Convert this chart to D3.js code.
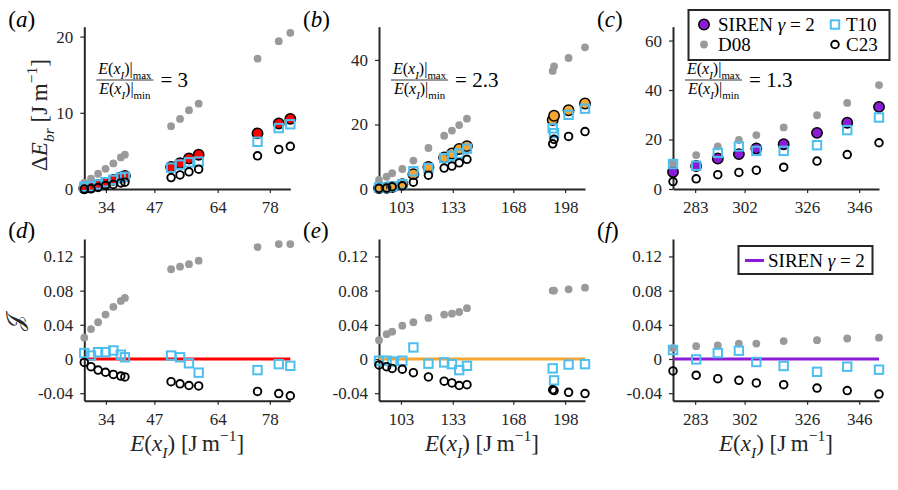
<!DOCTYPE html>
<html>
<head>
<meta charset="utf-8">
<script src="https://cdnjs.cloudflare.com/ajax/libs/d3/7.8.5/d3.min.js"></script>
<style>
    body { margin: 0; background: #fff; }
    svg, svg text { font-family: "Liberation Serif", "Times New Roman", "DejaVu Serif", serif; }
</style>
</head>
<body>
<div id="chart"></div>
<script>
// E(x_I) of each sample [J/m]
var E_a = [28.2, 30.0, 31.9, 33.9, 36.0, 38.0, 39.1, 51.5, 53.9, 56.3, 58.9, 74.7, 80.4, 83.5];
var E_b = [90.3, 94.7, 97.9, 103.8, 110.2, 118.9, 128.0, 132.5, 136.7, 141.2, 190.8, 191.6, 200.0, 209.5];
var E_c = [274.5, 283.4, 291.7, 299.8, 306.5, 317.0, 329.8, 341.4, 353.6];

// Delta E_br [J/m]
var dE_siren_a = [0.1, 0.2, 0.5, 0.8, 1.2, 1.5, 1.7, 2.9, 3.4, 4.0, 4.5, 7.3, 8.6, 9.2];
var dE_d08_a = [0.8, 1.35, 2.0, 2.65, 3.35, 4.15, 4.5, 8.25, 9.2, 10.35, 11.2, 17.1, 19.4, 20.5];
var dE_t10_a = [0.3, 0.35, 0.6, 0.9, 1.2, 1.5, 1.6, 2.8, 3.2, 3.5, 3.6, 6.2, 8.0, 8.5];
var dE_c23_a = [0.0, 0.05, 0.2, 0.45, 0.6, 0.8, 0.9, 1.5, 1.85, 2.25, 2.6, 4.35, 5.2, 5.6];

var dE_siren_b = [0.3, 0.4, 0.6, 1.5, 4.6, 6.8, 9.8, 11.0, 12.4, 13.3, 21.4, 22.7, 24.4, 26.5];
var dE_d08_b = [2.8, 3.8, 4.9, 6.2, 8.8, 12.7, 16.5, 18.1, 19.8, 21.8, 36.6, 38.0, 40.6, 43.9];
var dE_t10_b = [0.5, 0.5, 0.8, 1.5, 5.5, 6.5, 9.6, 10.3, 11.0, 12.5, 18.8, 17.3, 23.0, 24.9];
var dE_c23_b = [0.2, 0.3, 0.7, 1.0, 2.1, 4.3, 6.5, 7.1, 8.1, 9.2, 14.0, 15.4, 16.3, 17.8];

var dE_siren_c = [6.9, 9.3, 12.3, 14.1, 16.4, 18.1, 22.7, 26.8, 33.2];
var dE_d08_c = [10.5, 13.7, 17.2, 19.8, 21.8, 24.9, 29.8, 34.8, 42.0];
var dE_t10_c = [10.1, 9.4, 14.6, 17.2, 15.4, 15.4, 17.7, 23.8, 28.9];
var dE_c23_c = [3.0, 4.1, 5.8, 6.7, 7.6, 8.8, 11.3, 13.9, 18.7];

// J (relative to SIREN)
var J_d08_a = [0.025, 0.035, 0.043, 0.052, 0.061, 0.068, 0.0715, 0.105, 0.108, 0.111, 0.115, 0.131, 0.1345, 0.1345];
var J_t10_a = [0.007, 0.004, 0.008, 0.008, 0.010, 0.005, 0.002, 0.004, 0.002, -0.005, -0.016, -0.013, -0.006, -0.008];
var J_c23_a = [-0.004, -0.009, -0.013, -0.0155, -0.018, -0.020, -0.021, -0.0265, -0.029, -0.031, -0.0315, -0.038, -0.0405, -0.043];

var J_d08_b = [0.022, 0.029, 0.032, 0.039, 0.043, 0.048, 0.052, 0.053, 0.055, 0.0595, 0.080, 0.080, 0.0815, 0.0835];
var J_t10_b = [-0.002, -0.002, -0.003, -0.002, 0.0135, -0.0055, -0.004, -0.006, -0.013, -0.008, -0.011, -0.025, -0.0065, -0.006];
var J_c23_b = [-0.007, -0.009, -0.011, -0.012, -0.016, -0.021, -0.026, -0.028, -0.031, -0.030, -0.036, -0.037, -0.039, -0.0405];

var J_d08_c = [0.013, 0.015, 0.016, 0.018, 0.018, 0.021, 0.022, 0.024, 0.025];
var J_t10_c = [0.0105, -0.0005, 0.007, 0.0097, -0.0035, -0.0082, -0.015, -0.009, -0.0125];
var J_c23_c = [-0.014, -0.019, -0.023, -0.025, -0.028, -0.030, -0.034, -0.037, -0.041];

// ticks and labels
var xTicks_a = [34, 47, 64, 78];
var xTicks_b = [103, 133, 168, 198];
var xTicks_c = [283, 302, 326, 346];
var yTicks_a = [0, 10, 20];
var yTicks_b = [0, 20, 40];
var yTicks_c = [0, 20, 40, 60];
var yTicks_J = [-0.04, 0, 0.04, 0.08, 0.12];
var ratios = ["3", "2.3", "1.3"];
var panelNames = ["a", "b", "c", "d", "e", "f"];
var sirenColors = ["#ff0000", "#f7a533", "#8c1bd8"];

var W = 898, H = 490;
var FONT = "'Liberation Serif', 'Times New Roman', serif";
var AX = "#262626", GRAY = "#9a9a9a", BLUE = "#4dbeee";
var colLeft = [84.3, 379, 673], plotW = 206;
var topRow = {top: 26.7, bottom: 189}, botRow = {top: 239, bottom: 400.7};

var svg = d3.select("#chart").append("svg")
    .attr("width", W).attr("height", H)
    .attr("font-family", FONT)
    .attr("xmlns", "http://www.w3.org/2000/svg");

// text with italic / sub / sup pieces
function richText(el, parts, size) {
    var shift = 0;
    parts.forEach(function(p) {
        var target = p.sub ? size * 0.3 : (p.sup ? -size * 0.42 : 0);
        var ts = el.append("tspan").text(p.t)
            .attr("dy", target - shift)
            .style("font-size", (p.sub || p.sup ? size * 0.68 : size) + "px");
        if (p.i) ts.style("font-style", "italic");
        shift = target;
    });
    return el;
}

function drawAxes(g, x, y, xt, yt, yfmt, row) {
    var xa = g.append("g").attr("transform", "translate(0," + row.bottom + ")")
        .call(d3.axisBottom(x).tickValues(xt).tickSize(4).tickSizeOuter(0).tickPadding(8));
    var ya = g.append("g").attr("transform", "translate(" + x.range()[0] + ",0)")
        .call(d3.axisLeft(y).tickValues(yt).tickSize(4).tickSizeOuter(0).tickPadding(7).tickFormat(yfmt));
    [xa, ya].forEach(function(a) {
        a.attr("font-family", FONT).attr("font-size", 17);
        a.select(".domain").attr("stroke", AX).attr("stroke-width", 2);
        a.selectAll(".tick line").attr("stroke", AX).attr("stroke-width", 1.2);
        a.selectAll(".tick text").attr("fill", AX);
    });
}

function markers(g, x, y, E, vals, kind, color) {
    var pts = E.map(function(e, i) { return {e: e, v: vals[i]}; });
    if (kind === "square") {
        g.selectAll(null).data(pts).enter().append("rect")
            .attr("x", d => x(d.e) - 4.2).attr("y", d => y(d.v) - 4.2)
            .attr("width", 8.4).attr("height", 8.4)
            .attr("fill", "none").attr("stroke", color).attr("stroke-width", 2);
        return;
    }
    var c = g.selectAll(null).data(pts).enter().append("circle")
        .attr("cx", d => x(d.e)).attr("cy", d => y(d.v));
    if (kind === "siren") c.attr("r", 5.2).attr("fill", color).attr("stroke", "#000").attr("stroke-width", 1.5);
    if (kind === "dot") c.attr("r", 3.9).attr("fill", GRAY);
    if (kind === "open") c.attr("r", 3.8).attr("fill", "none").attr("stroke", "#000").attr("stroke-width", 1.9);
}

function panelLabel(x, y, name) {
    var t = svg.append("text").attr("x", x).attr("y", y).attr("fill", "#000");
    richText(t, [{t: "("}, {t: name, i: true}, {t: ")"}], 23);
}

var topPanels = [
    {E: E_a, s: dE_siren_a, d: dE_d08_a, t: dE_t10_a, c: dE_c23_a, ymax: 21.3, xt: xTicks_a, yt: yTicks_a},
    {E: E_b, s: dE_siren_b, d: dE_d08_b, t: dE_t10_b, c: dE_c23_b, ymax: 50.3, xt: xTicks_b, yt: yTicks_b},
    {E: E_c, s: dE_siren_c, d: dE_d08_c, t: dE_t10_c, c: dE_c23_c, ymax: 65.6, xt: xTicks_c, yt: yTicks_c}
];
var botPanels = [
    {E: E_a, d: J_d08_a, t: J_t10_a, c: J_c23_a, xt: xTicks_a},
    {E: E_b, d: J_d08_b, t: J_t10_b, c: J_c23_b, xt: xTicks_b},
    {E: E_c, d: J_d08_c, t: J_t10_c, c: J_c23_c, xt: xTicks_c}
];

topPanels.forEach(function(p, k) {
    var left = colLeft[k];
    var x = d3.scaleLinear().domain(d3.extent(p.E)).range([left, left + plotW]);
    var y = d3.scaleLinear().domain([0, p.ymax]).range([topRow.bottom, topRow.top]);
    var g = svg.append("g").attr("class", "panel-top");
    drawAxes(g, x, y, p.xt, p.yt, d3.format("d"), topRow);

    markers(g, x, y, p.E, p.s, "siren", sirenColors[k]);
    markers(g, x, y, p.E, p.d, "dot");
    markers(g, x, y, p.E, p.t, "square", BLUE);
    markers(g, x, y, p.E, p.c, "open");

    // E|max / E|min ratio
    var fx = left + 12;
    var num = richText(g.append("text").attr("y", 74).attr("text-anchor", "middle").attr("fill", "#000"),
        [{t: "E", i: true}, {t: "("}, {t: "x", i: true}, {t: "I", i: true, sub: true}, {t: ")|"}, {t: "max", sub: true}], 16);
    var den = richText(g.append("text").attr("y", 94).attr("text-anchor", "middle").attr("fill", "#000"),
        [{t: "E", i: true}, {t: "("}, {t: "x", i: true}, {t: "I", i: true, sub: true}, {t: ")|"}, {t: "min", sub: true}], 16);
    var fw = Math.max(num.node().getComputedTextLength(), den.node().getComputedTextLength()) + 4;
    num.attr("x", fx + fw / 2);
    den.attr("x", fx + fw / 2);
    g.append("line").attr("x1", fx).attr("x2", fx + fw).attr("y1", 80).attr("y2", 80)
        .attr("stroke", "#000").attr("stroke-width", 0.8);
    g.append("text").attr("x", fx + fw + 7).attr("y", 86.5).attr("fill", "#000")
        .style("font-size", "21px").text("= " + ratios[k]);

    panelLabel(left - 76, 27, panelNames[k]);
});

botPanels.forEach(function(p, k) {
    var left = colLeft[k];
    var x = d3.scaleLinear().domain(d3.extent(p.E)).range([left, left + plotW]);
    var y = d3.scaleLinear().domain([-0.0488, 0.1404]).range([botRow.bottom, botRow.top]);
    var g = svg.append("g").attr("class", "panel-bottom");
    drawAxes(g, x, y, p.xt, yTicks_J, function(d) { return d === 0 ? "0" : d.toFixed(2); }, botRow);

    // SIREN reference, J = 0
    g.append("line").attr("x1", x(p.E[0])).attr("x2", x(p.E[p.E.length - 1]))
        .attr("y1", y(0)).attr("y2", y(0))
        .attr("stroke", sirenColors[k]).attr("stroke-width", 3);

    markers(g, x, y, p.E, p.d, "dot");
    markers(g, x, y, p.E, p.t, "square", BLUE);
    markers(g, x, y, p.E, p.c, "open");

    // x label
    var xl = g.append("text").attr("x", left + plotW / 2).attr("y", 451)
        .attr("text-anchor", "middle").attr("fill", AX);
    richText(xl, [{t: "E", i: true}, {t: "("}, {t: "x", i: true}, {t: "I", i: true, sub: true},
        {t: ")  [J\u2009m"}, {t: "\u22121", sup: true}, {t: "]"}], 23);

    panelLabel(left - 76, 238, panelNames[k + 3]);
});

// y labels
var yl = svg.append("text").attr("transform", "translate(47,115) rotate(-90)")
    .attr("text-anchor", "middle").attr("fill", AX);
richText(yl, [{t: "\u0394"}, {t: "E", i: true}, {t: "br", i: true, sub: true},
    {t: "  [J\u2009m"}, {t: "\u22121", sup: true}, {t: "]"}], 23);

svg.append("text").attr("transform", "translate(23,322) rotate(-90)")
    .attr("text-anchor", "middle").attr("fill", AX)
    .style("font-size", "24px").text("\ud835\udca5");

// legend (c)
var lg = svg.append("g").attr("class", "legend");
lg.append("rect").attr("x", 688.5).attr("y", 10).attr("width", 201).attr("height", 50)
    .attr("fill", "#fff").attr("stroke", AX).attr("stroke-width", 2);
lg.append("circle").attr("cx", 704).attr("cy", 24.5).attr("r", 5.2)
    .attr("fill", sirenColors[2]).attr("stroke", "#000").attr("stroke-width", 1.5);
lg.append("circle").attr("cx", 704).attr("cy", 44.5).attr("r", 3.9).attr("fill", GRAY);
lg.append("rect").attr("x", 830.8).attr("y", 20.3).attr("width", 8.4).attr("height", 8.4)
    .attr("fill", "none").attr("stroke", BLUE).attr("stroke-width", 2);
lg.append("circle").attr("cx", 835).attr("cy", 44.5).attr("r", 3.8)
    .attr("fill", "none").attr("stroke", "#000").attr("stroke-width", 1.9);
richText(lg.append("text").attr("x", 718).attr("y", 31).attr("fill", "#000"),
    [{t: "SIREN "}, {t: "\u03b3", i: true}, {t: " = 2"}], 19);
lg.append("text").attr("x", 718).attr("y", 51).attr("fill", "#000").style("font-size", "19px").text("D08");
lg.append("text").attr("x", 846).attr("y", 31).attr("fill", "#000").style("font-size", "19px").text("T10");
lg.append("text").attr("x", 846).attr("y", 51).attr("fill", "#000").style("font-size", "19px").text("C23");

// legend (f)
var lf = svg.append("g").attr("class", "legend-line");
lf.append("rect").attr("x", 738.5).attr("y", 246).attr("width", 134).attr("height", 28)
    .attr("fill", "#fff").attr("stroke", AX).attr("stroke-width", 2);
lf.append("line").attr("x1", 745).attr("x2", 764).attr("y1", 260.5).attr("y2", 260.5)
    .attr("stroke", sirenColors[2]).attr("stroke-width", 3);
richText(lf.append("text").attr("x", 768).attr("y", 267).attr("fill", "#000"),
    [{t: "SIREN "}, {t: "\u03b3", i: true}, {t: " = 2"}], 19);
</script>
</body>
</html>
